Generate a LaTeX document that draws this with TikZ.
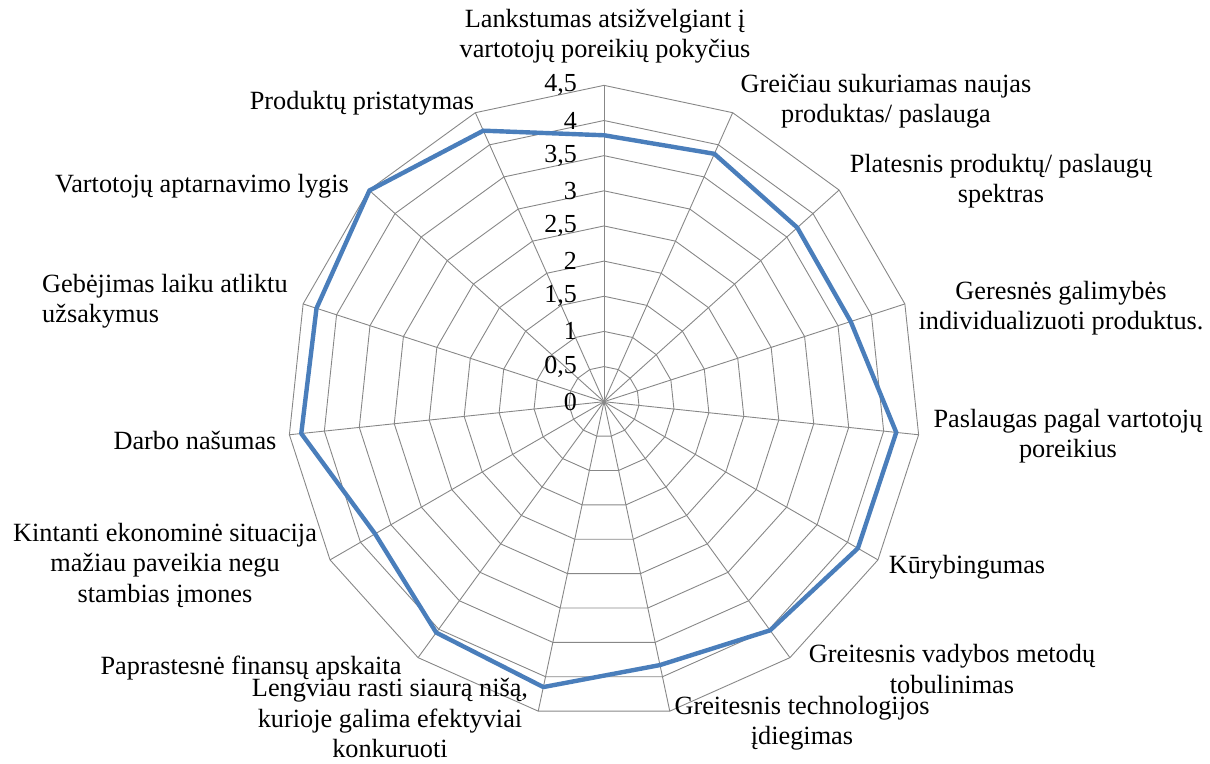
\documentclass[tikz,border=0pt]{standalone}
\usepackage{fontspec}
\setmainfont{Liberation Serif}
\begin{document}
\begin{tikzpicture}[x=1bp,y=-1bp,
  grid/.style={draw=black!47,line width=0.9bp},
  lab/.style={font=\fontsize{26.3bp}{30.5bp}\selectfont,align=center,inner sep=0pt,text=black},
  tick/.style={font=\fontsize{26bp}{30bp}\selectfont,inner sep=0pt,anchor=east}]
\definecolor{serieblue}{HTML}{4A7EBB}
\tikzset{series/.style={draw=serieblue,line width=4.4bp,line join=round}}
\useasboundingbox (0,0) rectangle (1210,764);
\coordinate (O) at (604,401.7);
% rings
\foreach \k in {1,...,9}
  \draw[grid] plot[samples at={0,24,...,360}] ({604+35.15*\k*sin(\x)},{401.7-35.15*\k*cos(\x)}) -- cycle;
% spokes
\foreach \a [count=\i from 0] in {0,24,...,336}
  \coordinate (s\i) at ({604+316.4*sin(\a)},{401.7-316.4*cos(\a)});
\foreach \i in {0,...,14}
  \draw[grid] (O) -- (s\i);
% data
\foreach \v [count=\i from 0] in {3.79,3.86,3.70,3.69,4.18,4.17,4.02,3.83,4.15,4.06,3.76,4.33,4.30,4.49,4.22}
  \coordinate (p\i) at ({604+70.3*\v*sin(24*\i)},{401.7-70.3*\v*cos(24*\i)});
\draw[series]
  (p0) -- (p1) -- (p2) -- (p3) -- (p4) -- (p5) -- (p6) -- (p7) -- (p8) -- (p9) -- (p10) -- (p11) -- (p12) -- (p13) -- (p14) -- cycle;
% tick labels
\foreach \lab [count=\k from 0] in {0,{0,5},1,{1,5},2,{2,5},3,{3,5},4,{4,5}}
  \node[tick] (t\k) at (577,401.7-35.15*\k) {\lab};
% category labels
\node[lab] (c1) at (605,36) {Lankstumas atsižvelgiant į\\vartotojų poreikių pokyčius};
\node[lab] (c2) at (886,101) {Greičiau sukuriamas naujas\\produktas/ paslauga};
\node[lab] (c3) at (1001,181) {Platesnis produktų/ paslaugų\\spektras};
\node[lab] (c4) at (1061,308) {Geresnės galimybės\\individualizuoti produktus.};
\node[lab] (c5) at (1068,436) {Paslaugas pagal vartotojų\\poreikius};
\node[lab] (c6) at (967,567) {Kūrybingumas};
\node[lab] (c7) at (952,669) {Greitesnis vadybos metodų\\tobulinimas};
\node[lab] (c8) at (802,723) {Greitesnis technologijos\\įdiegimas};
\node[lab] (c9) at (390,718) {Lengviau rasti siaurą nišą,\\kurioje galima efektyviai\\konkuruoti};
\node[lab] (c10) at (251,668) {Paprastesnė finansų apskaita};
\node[lab] (c11) at (165,565) {Kintanti ekonominė situacija\\mažiau paveikia negu\\stambias įmones};
\node[lab] (c12) at (195,440) {Darbo našumas};
\node[lab,align=left,anchor=west] (c13) at (42,301) {Gebėjimas laiku atliktu\\užsakymus};
\node[lab] (c14) at (202,186) {Vartotojų aptarnavimo lygis};
\node[lab] (c15) at (362,103) {Produktų pristatymas};
\end{tikzpicture}
\end{document}
